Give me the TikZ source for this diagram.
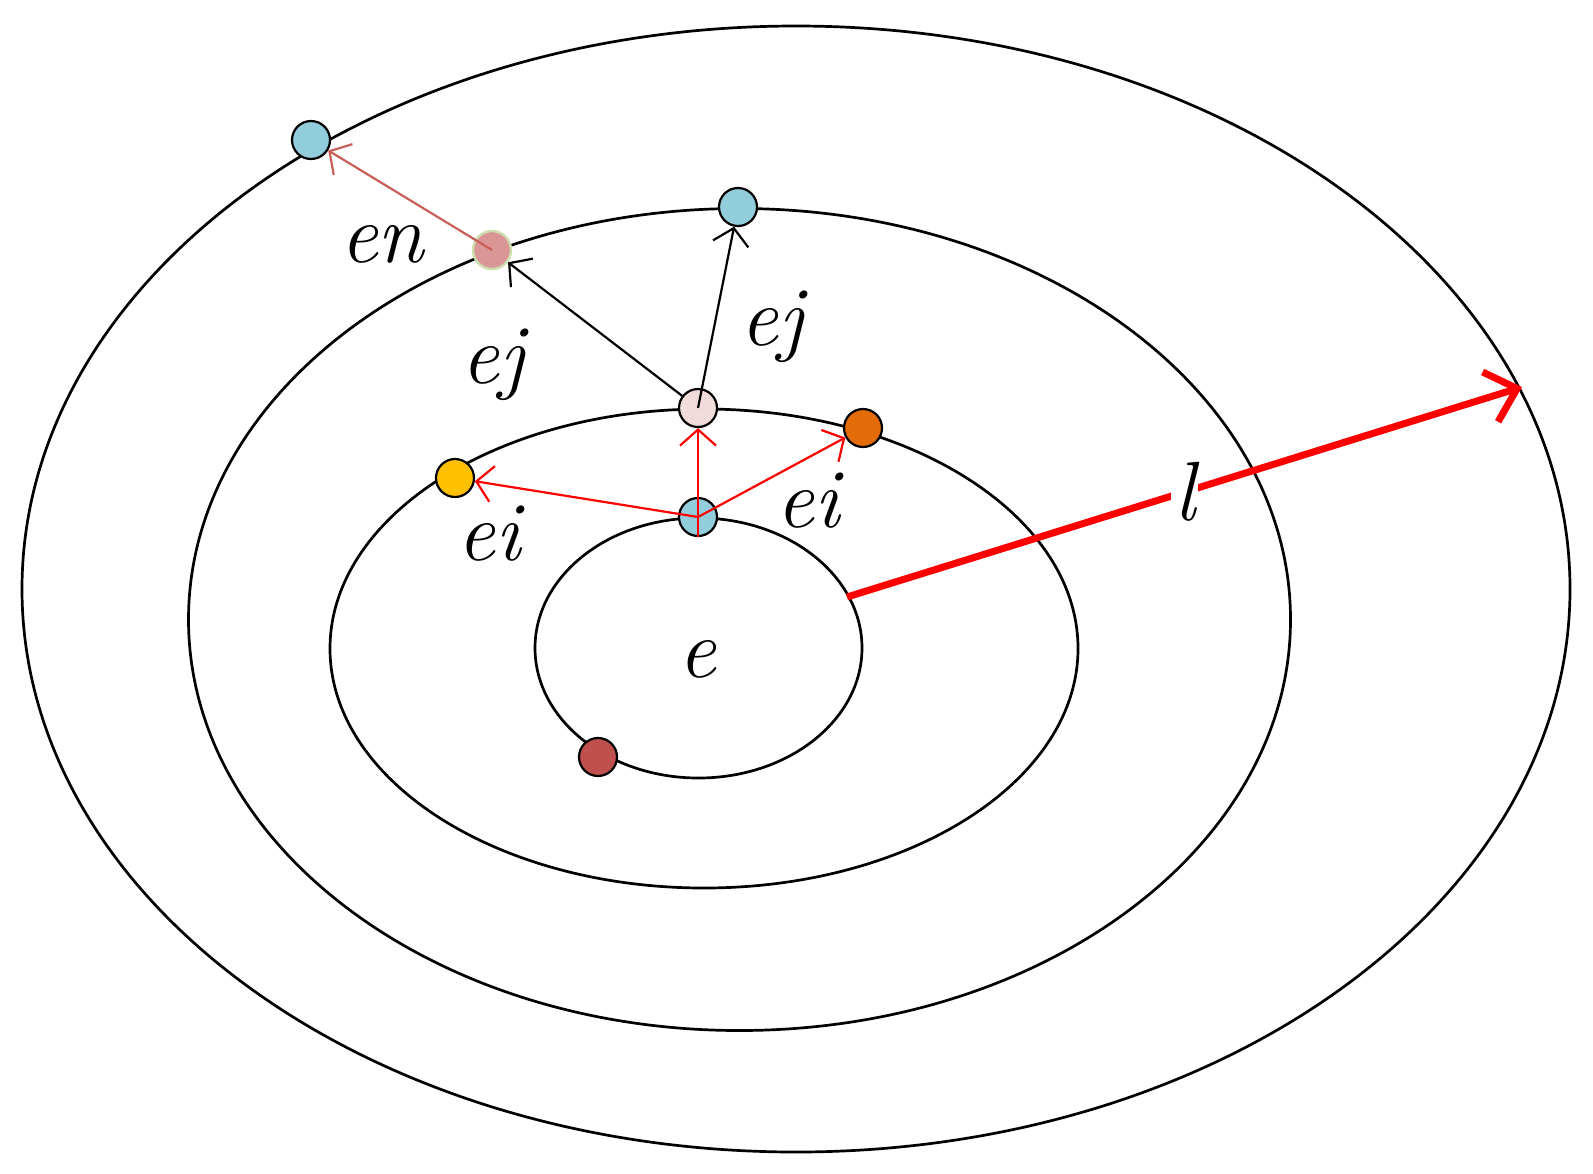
\documentclass[tikz,border=0pt]{standalone}
\usepackage{fontspec}
\usetikzlibrary{arrows.meta}
\definecolor{dotblue}{RGB}{146,205,220}
\definecolor{dotyellow}{RGB}{255,192,0}
\definecolor{dotorange}{RGB}{227,108,9}
\definecolor{dotdarkred}{RGB}{192,80,77}
\definecolor{dotlightpink}{RGB}{242,220,219}
\definecolor{dotrose}{RGB}{217,150,148}
\definecolor{rosering}{RGB}{205,222,175}
\definecolor{brownred}{RGB}{200,95,88}
\begin{document}
\begin{tikzpicture}[x=0.5pt,y=-0.5pt,
  orbit/.style={draw=black, line width=1.35pt},
  dot/.style={circle, draw=black, line width=1.1pt, minimum size=19pt, inner sep=0pt},
  lbl/.style={font=\fontsize{42}{42}\selectfont\itshape, anchor=base, inner sep=0pt},
  thinred/.style={draw=red, line width=1.1pt, -{Straight Barb[length=8pt,width=18pt]}},
  thinblack/.style={draw=black, line width=1.1pt, -{Straight Barb[length=8pt,width=18pt]}},
  thinbrown/.style={draw=brownred, line width=1.1pt, -{Straight Barb[length=8pt,width=18pt]}},
  thickred/.style={draw=red, line width=3.5pt, -{Straight Barb[length=14pt,width=26pt]}}
]
\useasboundingbox (0,0) rectangle (1593,1173);
% orbits
\draw[orbit] (796,589) ellipse [x radius=774, y radius=563];
\draw[orbit] (739.5,619.5) ellipse [x radius=551, y radius=411];
\draw[orbit] (704,648.5) ellipse [x radius=374, y radius=239.5];
\draw[orbit] (698.5,648) ellipse [x radius=163.5, y radius=130];
% dots
\node[dot, fill=dotblue] (b1) at (311,140) {};
\node[dot, fill=dotblue] (b2) at (738,207) {};
\node[dot, fill=dotrose, draw=rosering, line width=1.2pt] (pg) at (492,250) {};
\node[dot, fill=dotlightpink] (lp) at (698,408) {};
\node[dot, fill=dotorange] (or) at (863,428) {};
\node[dot, fill=dotyellow] (ye) at (455,478) {};
\node[dot, fill=dotblue] (b3) at (698,517) {};
\node[dot, fill=dotdarkred] (dr) at (598,757) {};
% connectors
\draw[thinred] (b3.center) -- (ye);
\draw[thinred] (b3.center) -- (or);
\draw[thinred] (b3.south) -- (lp);
\draw[thinblack] (lp) -- (pg);
\draw[thinblack] (lp.center) -- (b2);
\draw[thinbrown] (pg.center) -- (b1);
% long arrow
\coordinate (ls) at (847,597);
\coordinate (le) at (1522,387);
\draw[thickred] (ls) -- node[fill=white, inner sep=1.5pt, font=\fontsize{42}{42}\selectfont\itshape] (lt) {l} (le);
% labels
\node[lbl] (en) at (382,262) {en};
\node[lbl] (ej1) at (493,383) {ej};
\node[lbl] (ej2) at (772,345) {ej};
\node[lbl] (ei1) at (489,560) {ei};
\node[lbl] (ei2) at (808,527) {ei};
\node[lbl] (e0) at (697.5,677) {e};
\end{tikzpicture}
\end{document}
